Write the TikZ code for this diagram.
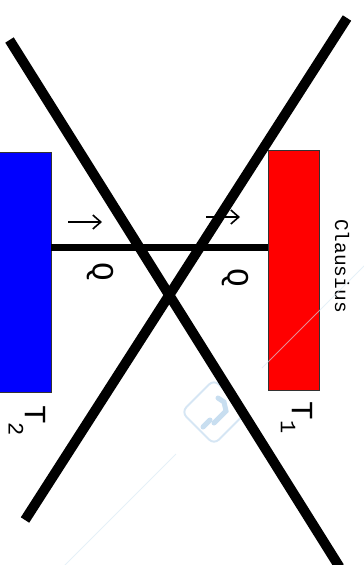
\documentclass[tikz,border=0pt]{standalone}
\usepackage{fontspec}
\setmonofont{Liberation Mono}
\usetikzlibrary{arrows.meta}
\definecolor{wm}{RGB}{214,230,244}
\definecolor{wmdark}{RGB}{200,222,240}
\begin{document}
\begin{tikzpicture}[x=1pt,y=-1pt,
  reservoir/.style={draw=black!80, line width=1pt, minimum width=51pt, minimum height=240pt, inner sep=0pt, outer sep=0pt},
  bigline/.style={line width=10pt},
  link/.style={line width=7pt},
  lbl/.style={rotate=-90, inner sep=0pt, font=\ttfamily\fontsize{31}{31}\selectfont},
  sublbl/.style={rotate=-90, inner sep=0pt, font=\ttfamily\fontsize{22}{22}\selectfont},
  namelbl/.style={rotate=-90, inner sep=0pt, font=\ttfamily\fontsize{19.5}{19.5}\selectfont},
  heatarrow/.style={line width=1.4pt, -{Straight Barb[length=8pt,width=14pt,line width=1.6pt]}},
  wmark/.style={draw=wm, line width=1pt, opacity=0.6}]
\useasboundingbox (0,0) rectangle (364,565);
\clip (0,0) rectangle (364,565);
% reservoirs
\node[reservoir, fill=blue, minimum width=54pt] (cold) at (24,272) {};
\node[reservoir, fill=red] (hot) at (293.5,270) {};
% link
\coordinate (lk) at (0,247);
\draw[link] (lk -| cold.east) -- (lk -| hot.west);
% heat arrows
\coordinate (a1s) at (68,222);
\coordinate (a1e) at (102,222);
\coordinate (a2s) at (206,217);
\coordinate (a2e) at (240,217);
\draw[heatarrow] (a1s) -- (a1e);
\draw[heatarrow] (a2s) -- (a2e);
% labels
\node[lbl] (q1) at (100,272) {Q};
\node[lbl] (q2) at (235,278) {Q};
\node[namelbl] (name) at (342,266) {Clausius};
\node[lbl] (t2) at (35,415) {T};
\node[sublbl] (t2s) at (16,429) {2};
\node[lbl] (t1) at (302,411) {T};
\node[sublbl] (t1s) at (288,427) {1};
% watermark
\draw[wmark] (63,567) -- (176,454);
\draw[wmark] (262,368) -- (366,264);
\draw[wm, line width=2pt, rounded corners=7pt, rotate around={45:(214,412)}] (191,389) rectangle (237,435);
\draw[wmdark, line width=5pt, line cap=round] (203,427) -- (210,420);
\draw[wmdark, line width=5pt, line cap=round] (214,423) -- (226,411) -- (224,402) -- (218,398);
% cross
\coordinate (x1a) at (9.5,40);
\coordinate (x1b) at (339.5,567);
\coordinate (x2a) at (347,18);
\coordinate (x2b) at (25,520);
\draw[bigline] (x1a) -- (x1b);
\draw[bigline] (x2a) -- (x2b);
\end{tikzpicture}
\end{document}
